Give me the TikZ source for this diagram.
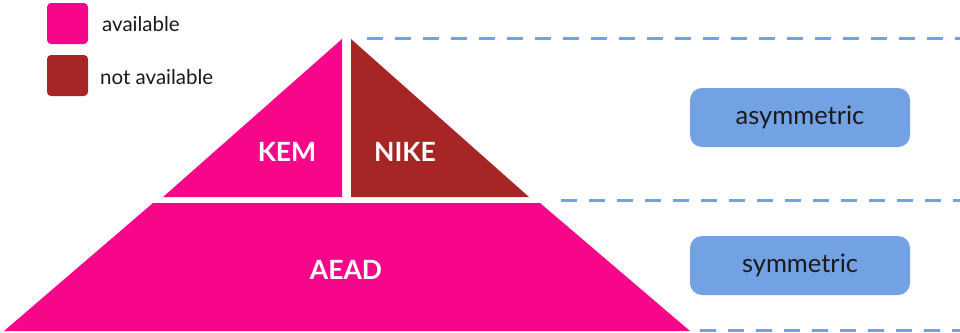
\documentclass[tikz,border=0pt]{standalone}
\usepackage{fontspec}
\setmainfont{Lato}
\definecolor{avail}{HTML}{F7068A}
\definecolor{navail}{HTML}{A62626}
\definecolor{boxblue}{HTML}{72A2E3}
\definecolor{txt}{HTML}{1A1A1A}
\tikzset{
  legsq/.style={rounded corners=4pt, minimum width=41pt, minimum height=41pt, inner sep=0pt},
  legtxt/.style={anchor=west, text=txt, font=\fontsize{20.5}{24}\selectfont, inner sep=0pt},
  layerlbl/.style={text=white, font=\fontsize{26.5}{30}\selectfont\bfseries},
  catbox/.style={fill=boxblue, rounded corners=12pt, minimum width=220pt, minimum height=59pt, text=txt, font=\fontsize{25.5}{30}\selectfont},
  sepline/.style={boxblue, line width=3pt, dash pattern=on 16pt off 12pt}
}
\begin{document}
\begin{tikzpicture}[x=1pt,y=-1pt]
\useasboundingbox (0,0) rectangle (960,332);
% legend
\node[legsq, fill=avail] (sqa) at (67.5,23.5) {};
\node[legsq, fill=navail] (sqn) at (67.5,75.5) {};
\node[legtxt] (la) at (102,24) {available};
\node[legtxt] (ln) at (100,77) {not available};
% pyramid
\fill[avail] (163,197) -- (342,197) -- (342,39) -- cycle;
\fill[navail] (351,39) -- (351,197) -- (529,197) -- cycle;
\fill[avail] (153,203) -- (540,203) -- (690,331) -- (4,331) -- cycle;
\node[layerlbl] (kem) at (287,152) {KEM};
\node[layerlbl] (nike) at (405,152) {NIKE};
\node[layerlbl] (aead) at (346,270) {AEAD};
% separators
\coordinate (t1) at (367,38.5); \coordinate (t2) at (960,38.5);
\coordinate (m1) at (561,200.5); \coordinate (m2) at (960,200.5);
\coordinate (b1) at (700,330); \coordinate (b2) at (960,330);
\draw[sepline] (t1) -- (t2);
\draw[sepline] (m1) -- (m2);
\draw[sepline] (b1) -- (b2);
% categories
\node[catbox] (asym) at (800,117.5) {asymmetric};
\node[catbox] (sym) at (800,265.5) {symmetric};
\end{tikzpicture}
\end{document}
